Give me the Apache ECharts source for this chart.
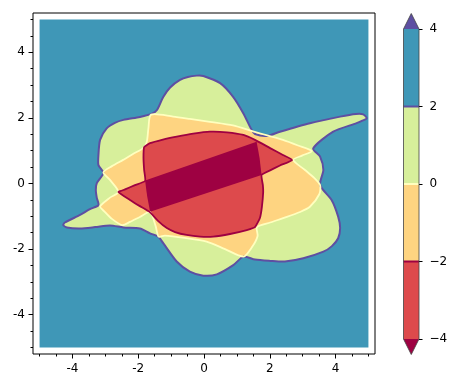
<!DOCTYPE html>
<html><head><meta charset="utf-8">
<script src="https://cdn.jsdelivr.net/npm/echarts@6/dist/echarts.min.js"></script>
<style>html,body{margin:0;padding:0;background:#fff}#c{width:458px;height:388px}</style>
</head><body><div id="c"></div>
<script>
// ---- data ----
const xTicks = [-4, -2, 0, 2, 4];
const yTicks = [-4, -2, 0, 2, 4];
const minorTicks = [-5, -4.5, -3.5, -3, -2.5, -1.5, -1, -0.5, 0.5, 1, 1.5, 2.5, 3, 3.5, 4.5, 5];
const colorLevels = [-4, -2, 0, 2, 4];
const lineLevels = [-2, 0, 2];
const domain = [-5, 5];

// filled band colours (Spectral), lowest band first
const bandColors = ['#dd4a4c', '#fed481', '#d7ef9b', '#3f97b7'];
const underColor = '#9e0142';
const overColor = '#5e4fa2';
const lineColors = ['#9e0142', '#ffffbf', '#5e4fa2'];

// level-set outlines (x, y)
const regionBelow2 = [[-0.22,3.29],[-0.02,3.28],[0.49,3.06],[0.88,2.65],[1.19,2.15],[1.45,1.63],[1.55,1.51],[1.91,1.45],[2.31,1.58],[3.22,1.84],[4.14,2.04],[4.62,2.12],[4.84,2.11],[4.95,1.99],[4.80,1.91],[4.64,1.84],[3.93,1.58],[3.32,1.07],[3.53,0.82],[3.63,0.41],[3.53,-0.05],[3.88,-0.50],[4.08,-1.01],[4.14,-1.36],[4.08,-1.67],[3.89,-1.91],[3.63,-2.08],[3.02,-2.28],[2.46,-2.38],[2.01,-2.36],[1.55,-2.32],[1.20,-2.23],[0.89,-2.49],[0.39,-2.77],[-0.02,-2.81],[-0.43,-2.69],[-0.83,-2.38],[-1.24,-1.82],[-1.39,-1.62],[-1.64,-1.52],[-1.95,-1.37],[-2.45,-1.34],[-2.86,-1.28],[-3.31,-1.33],[-3.77,-1.37],[-4.17,-1.34],[-4.28,-1.27],[-4.23,-1.19],[-3.77,-0.96],[-3.47,-0.78],[-3.21,-0.66],[-3.26,-0.44],[-3.29,-0.20],[-3.26,0.01],[-3.06,0.32],[-3.21,0.56],[-3.21,0.87],[-3.16,1.33],[-2.96,1.68],[-2.71,1.85],[-2.45,1.94],[-1.95,2.03],[-1.58,2.13],[-1.43,2.24],[-1.24,2.64],[-1.03,2.93],[-0.73,3.16],[-0.49,3.25]];
const regionBelow0 = [[-1.61,2.10],[-0.94,2.04],[-0.43,1.97],[0.18,1.88],[0.88,1.77],[1.49,1.59],[1.95,1.46],[2.40,1.33],[2.86,1.16],[3.28,0.99],[2.98,0.85],[2.71,0.72],[3.07,0.41],[3.35,0.17],[3.53,-0.05],[3.51,-0.32],[3.22,-0.71],[2.92,-0.87],[2.52,-1.02],[2.01,-1.19],[1.61,-1.33],[1.63,-1.60],[1.46,-1.94],[1.20,-2.23],[0.64,-2.00],[0.08,-1.77],[-0.58,-1.66],[-1.19,-1.59],[-1.38,-1.62],[-1.47,-1.30],[-1.64,-0.87],[-1.95,-1.02],[-2.25,-1.17],[-2.49,-1.27],[-2.80,-1.08],[-3.04,-0.84],[-3.16,-0.70],[-2.86,-0.43],[-2.60,-0.26],[-2.86,0.11],[-3.06,0.34],[-2.80,0.53],[-2.46,0.72],[-2.16,0.90],[-1.85,1.08],[-1.74,1.27],[-1.69,1.69]];
const regionBelowM2 = [[-1.82,1.11],[-1.64,1.23],[-1.25,1.34],[-0.83,1.43],[-0.33,1.52],[0.18,1.58],[0.70,1.56],[1.20,1.48],[1.55,1.33],[2.01,1.08],[2.40,0.87],[2.68,0.72],[2.31,0.55],[2.01,0.40],[1.75,0.26],[1.79,-0.05],[1.80,-0.26],[1.76,-0.72],[1.70,-1.05],[1.55,-1.33],[1.30,-1.42],[0.79,-1.54],[0.28,-1.62],[-0.12,-1.62],[-0.53,-1.57],[-0.88,-1.48],[-1.13,-1.36],[-1.40,-1.14],[-1.64,-0.88],[-1.95,-0.69],[-2.25,-0.50],[-2.60,-0.26],[-2.40,-0.18],[-2.10,-0.05],[-1.79,0.08],[-1.82,0.41],[-1.84,0.78]];
const regionBelowM4 = [[-1.79,0.09],[1.60,1.27],[1.69,0.78],[1.75,0.26],[-1.64,-0.86],[-1.73,-0.38]];

// ---- chart ----
const chart = echarts.init(document.getElementById('c'), null, {renderer: 'canvas'});
const font = {fontFamily: 'DejaVu Sans', fontSize: 12, color: '#000'};
const domainRect = [[domain[0],domain[0]],[domain[1],domain[0]],[domain[1],domain[1]],[domain[0],domain[1]]];
function poly(api, pts, style, smooth) {
  return {type: 'polygon', shape: {points: pts.map(p => api.coord(p)), smooth: smooth || 0}, style: style};
}
const fmtMinus = v => (v < 0 ? '\u2212' + Math.abs(v) : String(v));
const tickLine = {color: '#000', width: 1};
function axisCommon(extra) {
  return Object.assign({type: 'value', min: -5.2, max: 5.2,
    axisLine: {show: false, onZero: false}, splitLine: {show: false}}, extra);
}

const SM = 0.25;
const option = {
  animation: false,
  grid: [
    {left: 33, top: 13, width: 342, height: 341, show: true, borderColor: '#000', borderWidth: 1, backgroundColor: '#fff'},
    {left: 403.5, top: 29, width: 15.5, height: 310}
  ],
  xAxis: [
    axisCommon({gridIndex: 0, position: 'bottom',
     axisTick: {show: true, customValues: xTicks, length: 4.5, lineStyle: tickLine},
     axisLabel: Object.assign({customValues: xTicks, margin: 9}, font)}),
    axisCommon({gridIndex: 0, position: 'bottom',
     axisTick: {show: true, customValues: minorTicks, length: 2.5, lineStyle: tickLine},
     axisLabel: {show: false}}),
    {gridIndex: 1, type: 'value', min: 0, max: 1, show: false}
  ],
  yAxis: [
    axisCommon({gridIndex: 0, position: 'left',
     axisTick: {show: true, customValues: yTicks, length: 4.5, lineStyle: tickLine},
     axisLabel: Object.assign({customValues: yTicks, margin: 8}, font)}),
    axisCommon({gridIndex: 0, position: 'left',
     axisTick: {show: true, customValues: minorTicks, length: 2.5, lineStyle: tickLine},
     axisLabel: {show: false}}),
    {gridIndex: 1, type: 'value', position: 'right', min: colorLevels[0], max: colorLevels[colorLevels.length - 1], interval: 2,
     axisLine: {show: false, onZero: false}, splitLine: {show: false},
     axisTick: {show: true, length: 3.5, lineStyle: tickLine},
     axisLabel: Object.assign({margin: 10.5, formatter: fmtMinus}, font)}
  ],
  series: [
    {type: 'custom', xAxisIndex: 0, yAxisIndex: 0, data: [0], clip: true, silent: true, z: 1,
     renderItem: (params, api) => ({type: 'group', children: [
       poly(api, domainRect, {fill: bandColors[3]}),
       poly(api, regionBelow2, {fill: bandColors[2]}, SM),
       poly(api, regionBelow0, {fill: bandColors[1]}, SM),
       poly(api, regionBelowM2, {fill: bandColors[0]}, 0.15),
       poly(api, regionBelowM4, {fill: underColor}),
       poly(api, regionBelow2, {fill: 'none', stroke: lineColors[2], lineWidth: 2, lineJoin: 'round'}, SM),
       poly(api, regionBelow0, {fill: 'none', stroke: lineColors[1], lineWidth: 1.8, lineJoin: 'round'}, SM),
       poly(api, regionBelowM2, {fill: 'none', stroke: lineColors[0], lineWidth: 1.8, lineJoin: 'round'}, 0.15)
     ]})},
    {type: 'custom', xAxisIndex: 2, yAxisIndex: 2, data: [0], clip: false, silent: true,
     renderItem: (params, api) => {
       const ch = [];
       for (let i = 0; i < bandColors.length; i++) {
         const p0 = api.coord([0, colorLevels[i]]), p1 = api.coord([1, colorLevels[i + 1]]);
         ch.push({type: 'rect', shape: {x: p0[0], y: p1[1], width: p1[0] - p0[0], height: p0[1] - p1[1]}, style: {fill: bandColors[i]}});
       }
       const n = colorLevels.length - 1;
       const lo0 = api.coord([0, colorLevels[0]]), lo1 = api.coord([1, colorLevels[0]]);
       const hi0 = api.coord([0, colorLevels[n]]), hi1 = api.coord([1, colorLevels[n]]);
       const ext = 15.5, mid = (lo0[0] + lo1[0]) / 2;
       ch.push({type: 'polygon', shape: {points: [lo0, lo1, [mid, lo0[1] + ext]]}, style: {fill: underColor}});
       ch.push({type: 'polygon', shape: {points: [hi0, hi1, [mid, hi0[1] - ext]]}, style: {fill: overColor}});
       lineLevels.forEach((lv, k) => {
         const a = api.coord([0, lv]), b = api.coord([1, lv]);
         ch.push({type: 'line', shape: {x1: a[0], y1: a[1], x2: b[0], y2: b[1]}, style: {stroke: lineColors[k], lineWidth: 2}});
       });
       ch.push({type: 'polygon', shape: {points: [hi0, [mid, hi0[1] - ext], hi1, lo1, [mid, lo0[1] + ext], lo0]},
                style: {fill: 'none', stroke: '#444', lineWidth: 0.8}});
       return {type: 'group', children: ch};
     }}
  ]
};
chart.setOption(option);
</script></body></html>
